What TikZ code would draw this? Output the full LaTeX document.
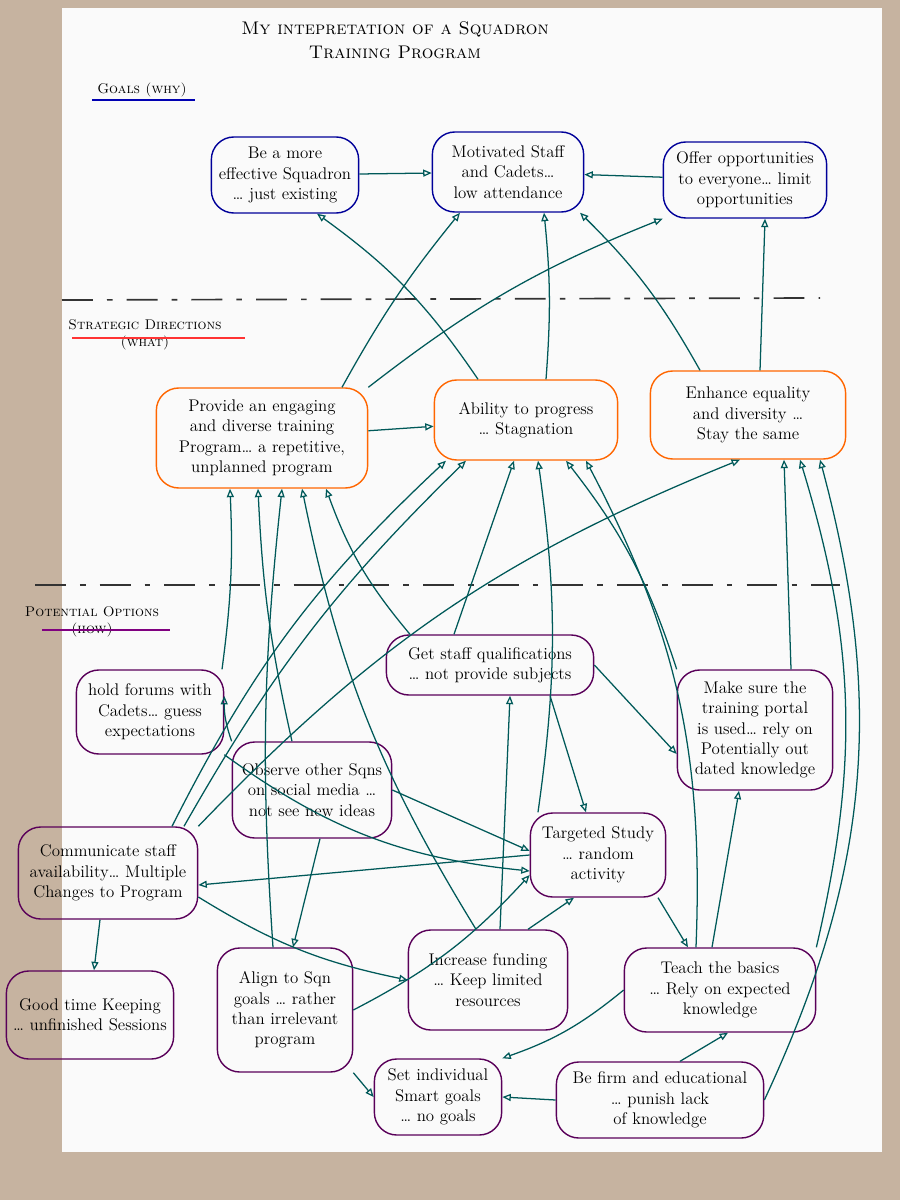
\documentclass[tikz,border=0pt]{standalone}
\usetikzlibrary{arrows.meta}
\hyphenpenalty=10000
\exhyphenpenalty=10000
\begin{document}
\begin{tikzpicture}[x=0.025cm,y=-0.025cm,
  every node/.style={font=\fontsize{12}{14.5}\selectfont},
  box/.style={draw,line width=1pt,rounded corners=16pt,align=center,inner sep=4pt},
  goal/.style={box,draw=blue!60!black},
  strat/.style={box,draw=orange!80!red},
  opt/.style={box,draw=violet!70!black},
  arr/.style={draw=teal!70!black,line width=0.9pt,-{Triangle[open,length=6pt,width=5pt]}},
  sep/.style={draw=black!80,line width=1.2pt,dash pattern=on 22pt off 10pt on 4pt off 10pt},
  head/.style={font=\fontsize{10}{12}\selectfont\scshape,align=center}]
\useasboundingbox (0,0) rectangle (900,1200);
\fill[brown!35!white!85!black] (0,0) rectangle (900,1200);
\fill[white!96!gray] (62,8) rectangle (882,1152);
\node[font=\fontsize{13}{17}\selectfont\scshape,align=center] (title) at (395,40) {My intepretation of a Squadron\\Training Program};
\node[head] (h1) at (142,90) {Goals (why)};
\draw[blue!70!black,thick] (92,100) -- (195,100);
\node[head] (h2) at (145,335) {Strategic Directions\\(what)};
\draw[red!80,thick] (72,338) -- (245,338);
\node[head] (h3) at (92,622) {Potential Options\\(how)};
\draw[violet,thick] (42,630) -- (170,630);
\draw[sep] (62,300) -- (820,298);
\draw[sep] (35,585) -- (840,585);
% goals
\node[goal,text width=3.4cm,minimum height=1.9cm] (g1) at (285,175) {Be a more effective Squadron\\\dots\ just existing};
\node[goal,text width=3.5cm,minimum height=2cm] (g2) at (508,172) {Motivated Staff and Cadets\dots\ low attendance};
\node[goal,text width=3.8cm,minimum height=1.9cm] (g3) at (745,180) {Offer opportunities to everyone\dots\ limit opportunities};
% strategies
\node[strat,text width=5cm,minimum height=2.5cm] (s1) at (262,438) {Provide an engaging and diverse training Program\dots\ a repetitive, unplanned program};
\node[strat,text width=4.3cm,minimum height=2cm] (s2) at (526,420) {Ability to progress\\\dots\ Stagnation};
\node[strat,text width=4.6cm,minimum height=2.2cm] (s3) at (748,415) {Enhance equality and diversity \dots\ Stay the same};
% options
\node[opt,text width=3.4cm,minimum height=2.1cm] (p1) at (150,712) {hold forums with Cadets\dots\ guess expectations};
\node[opt,text width=4.9cm,minimum height=1.5cm] (p2) at (490,665) {Get staff qualifications\\\dots\ not provide subjects};
\node[opt,text width=3.6cm,minimum height=3cm] (p3) at (755,730) {Make sure the training portal is used\dots\ rely on Potentially out dated knowledge};
\node[opt,text width=3.7cm,minimum height=2.4cm] (p4) at (312,790) {Observe other Sqns on social media \dots\ not see new ideas};
\node[opt,text width=3.1cm,minimum height=2.1cm] (p5) at (598,855) {Targeted Study\\\dots\ random activity};
\node[opt,text width=4.2cm,minimum height=2.3cm] (p6) at (108,873) {Communicate staff availability\dots\ Multiple Changes to Program};
\node[opt,text width=3.9cm,minimum height=2.2cm] (p7) at (90,1015) {Good time Keeping\\\dots\ unfinished Sessions};
\node[opt,text width=3.1cm,minimum height=3.1cm] (p8) at (285,1010) {Align to Sqn goals \dots\ rather than irrelevant program};
\node[opt,text width=3.7cm,minimum height=2.5cm] (p9) at (488,980) {Increase funding\\\dots\ Keep limited resources};
\node[opt,text width=4.5cm,minimum height=2.1cm] (p10) at (720,990) {Teach the basics\\\dots\ Rely on expected knowledge};
\node[opt,text width=2.9cm,minimum height=1.9cm] (p11) at (438,1097) {Set individual Smart goals\\\dots\ no goals};
\node[opt,text width=4.9cm,minimum height=1.9cm] (p12) at (660,1100) {Be firm and educational\\\dots\ punish lack of knowledge};
% goal-level
\draw[arr] (g1) -- (g2);
\draw[arr] (g3) -- (g2);
\draw[arr] (s1.north east) to[bend left=8] (g3.south west);
\draw[arr] ([xshift=2cm]s1.north) to[bend left=5] ([xshift=-1.2cm]g2.south);
\draw[arr] ([xshift=-1.2cm]s2.north) to[bend right=10] ([xshift=0.8cm]g1.south);
\draw[arr] ([xshift=0.5cm]s2.north) to[bend right=5] ([xshift=0.9cm]g2.south);
\draw[arr] ([xshift=-1.2cm]s3.north) to[bend right=8] ([xshift=1.8cm]g2.south);
\draw[arr] ([xshift=0.3cm]s3.north) -- ([xshift=0.5cm]g3.south);
\draw[arr] (s1) -- (s2);
% options to strategies
\draw[arr] ([xshift=1.8cm]p1.north) to[bend right=5] ([xshift=-0.8cm]s1.south);
\draw[arr] ([xshift=-0.5cm]p4.north) to[bend left=5] ([xshift=-0.1cm]s1.south);
\draw[arr] ([xshift=-0.3cm]p8.north) to[bend left=5] ([xshift=0.5cm]s1.south);
\draw[arr] ([xshift=-0.3cm]p9.north) to[bend left=10] ([xshift=1cm]s1.south);
\draw[arr] ([xshift=-2cm]p2.north) to[bend left=10] ([xshift=1.6cm]s1.south);
\draw[arr] ([xshift=1.6cm]p6.north) to[bend left=10] ([xshift=-2cm]s2.south);
\draw[arr] ([xshift=1.9cm]p6.north) to[bend left=8] ([xshift=-1.5cm]s2.south);
\draw[arr] (p6.north east) to[bend left=12] ([xshift=-0.2cm]s3.south);
\draw[arr] ([xshift=-0.9cm]p2.north) -- ([xshift=-0.3cm]s2.south);
\draw[arr] ([xshift=-1.5cm]p5.north) to[bend right=8] ([xshift=0.3cm]s2.south);
\draw[arr] (p3.north west) to[bend right=10] ([xshift=1cm]s2.south);
\draw[arr] ([xshift=-0.6cm]p10.north) to[bend right=15] ([xshift=1.5cm]s2.south);
\draw[arr] ([xshift=0.9cm]p3.north) to ([xshift=0.9cm]s3.south);
\draw[arr] (p10.north east) to[bend right=15] ([xshift=1.3cm]s3.south);
\draw[arr] (p12.east) to[bend right=20] ([xshift=1.8cm]s3.south);
% option to option
\draw[arr] ([xshift=1.5cm]p2.south) -- ([xshift=-0.3cm]p5.north);
\draw[arr] (p2.east) -- ([yshift=-0.6cm]p3.west);
\draw[arr] (p5.west) -- ([yshift=-0.3cm]p6.east);
\draw[arr] ([xshift=-0.2cm]p6.south) -- ([xshift=0.1cm]p7.north);
\draw[arr] ([xshift=0.2cm]p4.south) -- ([xshift=0.2cm]p8.north);
\draw[arr] (p4.east) -- ([yshift=0.1cm]p5.west);
\draw[arr] (p1.south east) to[bend right=15] ([yshift=-0.4cm]p5.west);
\draw[arr] ([yshift=-0.6cm]p6.east) to[bend right=10] (p9.west);
\draw[arr] ([xshift=1.5cm]p5.south) -- ([xshift=-0.8cm]p10.north);
\draw[arr] ([xshift=1cm]p9.north) -- ([xshift=-0.6cm]p5.south);
\draw[arr] ([xshift=0.3cm]p9.north) -- ([xshift=0.5cm]p2.south);
\draw[arr] (p8.south east) -- (p11.west);
\draw[arr] (p12.west) -- (p11.east);
\draw[arr] ([xshift=0.5cm]p12.north) -- ([xshift=0.2cm]p10.south);
\draw[arr] (p10.west) to[bend left=10] (p11.north east);
\draw[arr] ([xshift=-0.2cm]p10.north) -- ([xshift=-0.4cm]p3.south);
\draw[arr] (p8.east) to[bend right=10] ([yshift=-0.5cm]p5.west);
\draw[arr] (p4.north west) to[bend left=10] ([yshift=0.4cm]p1.east);
\end{tikzpicture}
\end{document}
